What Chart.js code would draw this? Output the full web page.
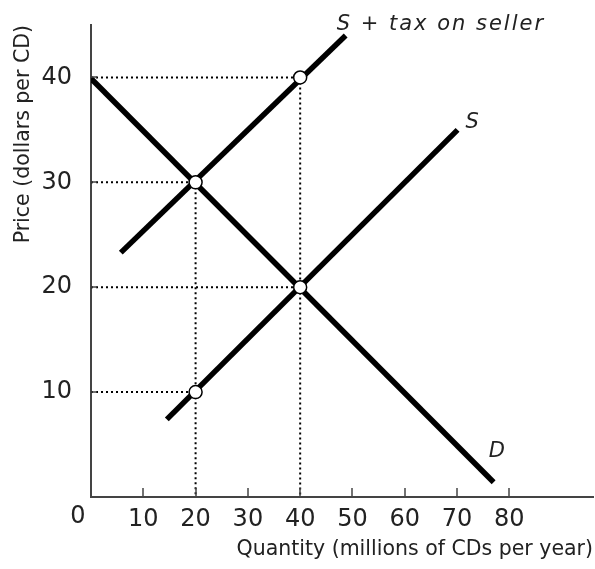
<!DOCTYPE html>
<html lang="en">
<head>
  <meta charset="UTF-8" />
  <title>CD Market with Tax on Sellers</title>
  <script src="https://cdn.jsdelivr.net/npm/chart.js"></script>
  <style>
    body { margin: 0; background: #fff; }
    #wrap { width: 595px; height: 569px; }
  </style>
</head>
<body>
  <div id="wrap"><canvas id="taxChart"></canvas></div>

  <script>
    // curves (quantity in millions, price in dollars)
    const demandQ = [0, 77];
    const demandP = [39.9, 1.4];
    const supplyQ = [14.5, 70.1];
    const supplyP = [7.4, 35];
    const taxQ = [5.7, 48.7];
    const taxP = [23.3, 44];

    // marked points
    const pointQ = [20, 40, 40, 20];
    const pointP = [30, 40, 20, 10];

    // tick labels
    const xTicks = [10, 20, 30, 40, 50, 60, 70, 80];
    const yTicks = [10, 20, 30, 40];

    const toXY = (qs, ps) => qs.map((q, i) => ({ x: q, y: ps[i] }));

    // dotted guides: horizontal from the price axis, vertical down to the quantity axis
    const guides = [];
    pointQ.forEach((q, i) => guides.push([{ x: 0, y: pointP[i] }, { x: q, y: pointP[i] }]));
    [0, 1].forEach(i => guides.push([{ x: pointQ[i], y: pointP[i] }, { x: pointQ[i], y: 0 }]));

    const font = "'DejaVu Sans', sans-serif";

    const lineStyle = { showLine: true, borderColor: "#000", borderWidth: 5.5, pointRadius: 0, borderCapStyle: "butt" };

    const datasets = [
      {
        data: toXY(pointQ, pointP),
        pointRadius: 6.5,
        pointBackgroundColor: "#fff",
        pointBorderColor: "#000",
        pointBorderWidth: 1.5
      },
      Object.assign({ data: toXY(taxQ, taxP) }, lineStyle),
      Object.assign({ data: toXY(supplyQ, supplyP) }, lineStyle),
      Object.assign({ data: toXY(demandQ, demandP) }, lineStyle)
    ];
    guides.forEach(g => datasets.push({
      data: g, showLine: true, borderColor: "#000", borderWidth: 2,
      borderDash: [2, 3], pointRadius: 0
    }));

    // inward tick marks, the shared "0" and the curve names
    const extras = {
      id: "extras",
      afterDraw(chart) {
        const { ctx, scales: { x, y } } = chart;
        ctx.save();
        ctx.strokeStyle = "#444";
        ctx.lineWidth = 1.5;
        xTicks.forEach(v => {
          const px = Math.round(x.getPixelForValue(v));
          ctx.beginPath();
          ctx.moveTo(px, y.bottom);
          ctx.lineTo(px, y.bottom - 9);
          ctx.stroke();
        });
        yTicks.forEach(v => {
          const py = Math.round(y.getPixelForValue(v));
          ctx.beginPath();
          ctx.moveTo(x.left, py);
          ctx.lineTo(x.left + 6, py);
          ctx.stroke();
        });

        ctx.fillStyle = "#222";
        ctx.font = "24px " + font;
        ctx.textAlign = "center";
        ctx.textBaseline = "top";
        ctx.fillText("0", x.getPixelForValue(0) - 13, y.bottom + 8);

        ctx.font = "italic 21px " + font;
        ctx.textAlign = "left";
        ctx.textBaseline = "alphabetic";
        ctx.letterSpacing = "2px";
        ctx.fillText("S + tax on seller", x.getPixelForValue(taxQ[1]) - 9, y.getPixelForValue(taxP[1]) - 5);
        ctx.letterSpacing = "0px";
        ctx.fillText("S", x.getPixelForValue(supplyQ[1]) + 8, y.getPixelForValue(supplyP[1]) - 2);
        ctx.fillText("D", x.getPixelForValue(demandQ[1]) - 5, y.getPixelForValue(demandP[1]) - 25);
        ctx.restore();
      }
    };

    new Chart(document.getElementById("taxChart"), {
      type: "scatter",
      data: { datasets },
      plugins: [extras],
      options: {
        responsive: true,
        maintainAspectRatio: false,
        animation: false,
        layout: { autoPadding: false, padding: { top: 25, right: 2, left: 0, bottom: 0 } },
        plugins: { legend: { display: false }, tooltip: { enabled: false } },
        scales: {
          x: {
            type: "linear",
            min: 0,
            max: 96,
            afterBuildTicks: s => { s.ticks = xTicks.map(v => ({ value: v })); },
            afterFit: s => { s.height = 72; s.paddingLeft = 0; s.paddingRight = 0; },
            grid: { display: false, drawTicks: false },
            border: { display: true, color: "#444", width: 2 },
            ticks: { padding: 8, color: "#222", font: { family: font, size: 24 } },
            title: {
              display: true,
              text: "Quantity (millions of CDs per year)",
              align: "end",
              color: "#222",
              font: { family: font, size: 20.5 },
              padding: { top: 0, bottom: 7 }
            }
          },
          y: {
            type: "linear",
            min: 0,
            max: 45,
            afterBuildTicks: s => { s.ticks = yTicks.map(v => ({ value: v })); },
            afterFit: s => { s.width = 91; s.paddingTop = 0; s.paddingBottom = 0; },
            grid: { display: false, drawTicks: false },
            border: { display: true, color: "#444", width: 2 },
            ticks: { padding: 19, color: "#222", font: { family: font, size: 24 } },
            title: {
              display: true,
              text: "Price (dollars per CD)",
              align: "end",
              color: "#222",
              font: { family: font, size: 20.5 },
              padding: { top: 11, bottom: 0 }
            }
          }
        }
      }
    });
  </script>
</body>
</html>
